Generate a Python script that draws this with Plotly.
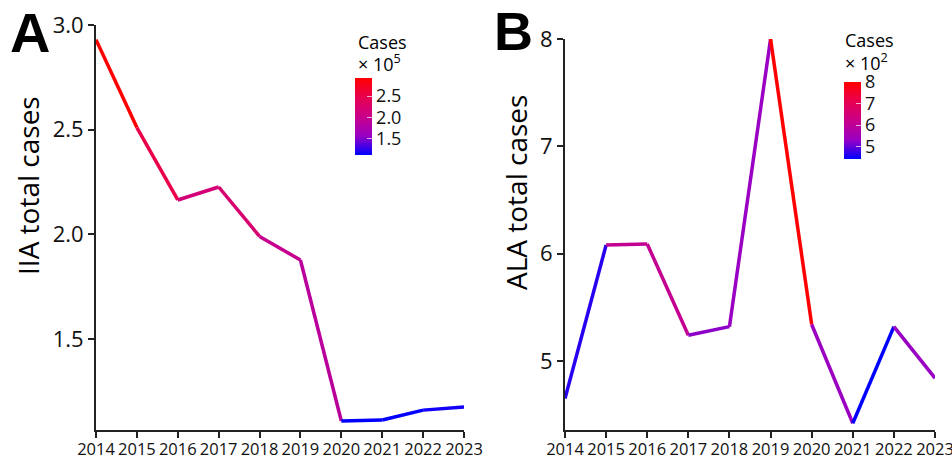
import plotly.graph_objects as go
from plotly.colors import sample_colorscale

# ---- data ----
years = [2014, 2015, 2016, 2017, 2018, 2019, 2020, 2021, 2022, 2023]
iia_cases = [2.93, 2.51, 2.164, 2.226, 1.99, 1.877, 1.108, 1.113, 1.16, 1.175]   # x 10^5
ala_cases = [4.65, 6.08, 6.09, 5.24, 5.32, 8.00, 5.34, 4.42, 5.32, 4.84]          # x 10^2
year_ticks = [str(y) for y in years]
iia_ticks = [1.5, 2.0, 2.5, 3.0]
ala_ticks = [5, 6, 7, 8]
cbar_ticks_a = [1.5, 2.0, 2.5]
cbar_ticks_b = [5, 6, 7, 8]

# blue -> red gradient interpolated in Lab space (ggplot style)
cscale = [[0.0, "#0000FF"], [0.25, "#9A00C3"], [0.5, "#C90089"],
          [0.75, "#E8004F"], [1.0, "#FF0000"]]

W, H = 952, 455
FONT = "Open Sans"
AXC = "#222222"

def px(x):
    return x / W

def py(y):
    return 1 - y / H

fig = go.Figure()

def add_panel(vals, xa, ya, cb_x, cb_top, cb_ticks, fmt):
    vmin, vmax = min(vals), max(vals)
    ts = [(v - vmin) / (vmax - vmin) for v in vals]
    cols = sample_colorscale(cscale, ts)
    for i in range(len(vals) - 1):
        fig.add_trace(go.Scatter(
            x=years[i:i + 2], y=vals[i:i + 2], mode="lines",
            line=dict(color=cols[i], width=3.5),
            xaxis=xa, yaxis=ya, showlegend=False, hoverinfo="skip"))
    fig.add_trace(go.Scatter(
        x=years, y=vals, mode="markers", xaxis=xa, yaxis=ya,
        showlegend=False, hoverinfo="skip",
        marker=dict(color=vals, colorscale=cscale, cmin=vmin, cmax=vmax,
                    size=1, opacity=0, showscale=True,
                    colorbar=dict(
                        x=px(cb_x), xanchor="left", xpad=0,
                        y=py(cb_top), yanchor="top", ypad=0,
                        lenmode="pixels", len=77, thickness=17,
                        outlinewidth=0, tickvals=cb_ticks,
                        ticks="inside", ticklen=5, tickcolor="rgba(255,255,255,0.7)",
                        tickwidth=1,
                        tickfont=dict(family=FONT, size=18, color="#111"),
                        tickformat=fmt,
                    ))))

add_panel(iia_cases, "x", "y", 355, 78, cbar_ticks_a, ".1f")
add_panel(ala_cases, "x2", "y2", 844, 82, cbar_ticks_b, "d")

axis_common = dict(showgrid=False, zeroline=False, showline=True,
                   linecolor=AXC, linewidth=2, ticks="outside",
                   ticklen=6, tickwidth=1.5, tickcolor=AXC, automargin=False,
                   ticklabeloverflow="allow")

fig.update_layout(
    width=W, height=H, margin=dict(l=0, r=0, t=0, b=0),
    paper_bgcolor="white", plot_bgcolor="white",
    font=dict(family=FONT, color="#111"),
    xaxis=dict(domain=[px(96), px(464)], range=[2014, 2023], anchor="y",
               tickvals=years, ticktext=year_ticks, ticklabelstandoff=-3,
               tickangle=0, tickfont=dict(size=16.5), **axis_common),
    yaxis=dict(domain=[py(430), py(25)], range=[1.065, 3.0], anchor="x",
               tickvals=iia_ticks, tickformat=".1f",
               tickfont=dict(size=22), **axis_common),
    xaxis2=dict(domain=[px(565), px(935)], range=[2014, 2023], anchor="y2",
                tickvals=years, ticktext=year_ticks, ticklabelstandoff=-3,
                tickangle=0, tickfont=dict(size=16.5), **axis_common),
    yaxis2=dict(domain=[py(430), py(39)], range=[4.357, 8.0], anchor="x2",
                tickvals=ala_ticks, tickformat="d",
                tickfont=dict(size=22), **axis_common),
)

def note(text, x, y, size, xanchor="center", yanchor="middle", family=FONT, angle=0):
    return dict(text=text, x=px(x), y=py(y), xref="paper", yref="paper",
                xanchor=xanchor, yanchor=yanchor, showarrow=False, textangle=angle,
                font=dict(family=family, size=size, color="black"))

ann = [
    note("<b>A</b>", 30, 33, 56, family="Liberation Sans"),
    note("<b>B</b>", 513, 31, 54, family="Liberation Sans"),
    note("IIA total cases", 28, 186, 28, angle=-90),
    note("ALA total cases", 516, 193, 28, angle=-90),
    note("Cases", 356, 42, 18, xanchor="left"),
    note("× 10<sup>5</sup>", 356, 63, 18, xanchor="left"),
    note("Cases", 843, 40, 18, xanchor="left"),
    note("× 10<sup>2</sup>", 843, 62, 18, xanchor="left"),
]
fig.update_layout(annotations=ann)

fig.write_html("out.html", config={"displayModeBar": False},
               post_script="document.body.style.margin='0';document.body.style.overflow='hidden';")
